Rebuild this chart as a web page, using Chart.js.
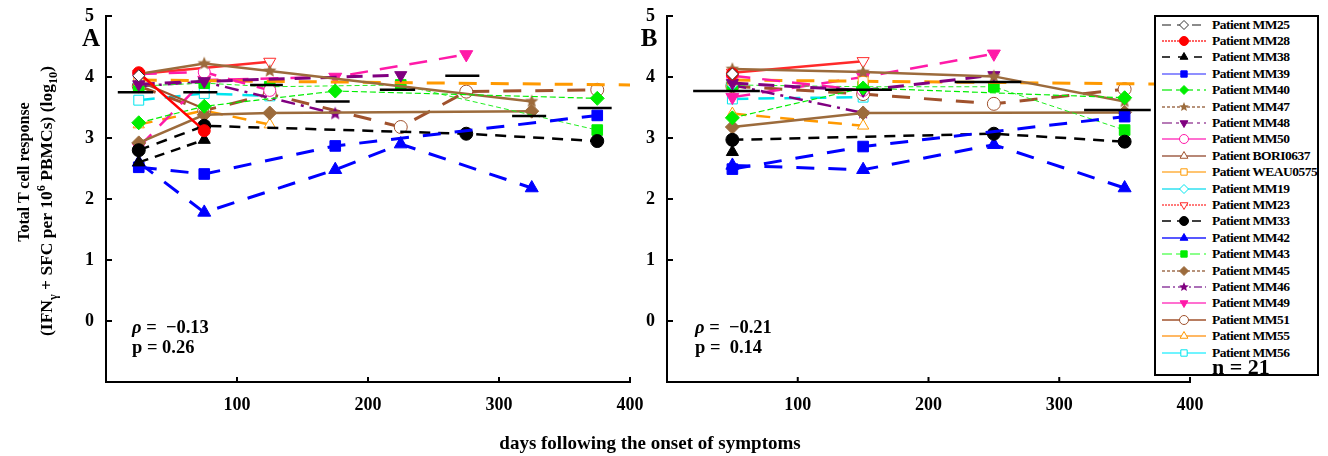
<!DOCTYPE html>
<html><head><meta charset="utf-8">
<script src="https://cdn.jsdelivr.net/npm/chart.js@4/dist/chart.umd.min.js"></script>
<style>
html,body{margin:0;padding:0;background:#fff;}
body{width:1328px;height:456px;position:relative;overflow:hidden;font-family:'Liberation Serif','Times New Roman',serif;font-weight:bold;color:#000;}
canvas.chart{position:absolute;top:0;}
#cA{left:0;}
#cB{left:600px;}
.t{position:absolute;white-space:nowrap;transform:translate(-50%,-50%);line-height:1;}
.r{position:absolute;white-space:nowrap;transform:translate(-50%,-50%) rotate(-90deg);line-height:1;font-size:16px;}
.l{position:absolute;white-space:nowrap;line-height:1;font-size:18.5px;transform:translateY(-50%);}
sub,sup{font-size:0.7em;line-height:0;}
#legend{position:absolute;left:1154px;top:15px;width:165px;height:361px;border:2px solid #000;box-sizing:border-box;background:#fff;z-index:5;}
.row{position:absolute;left:0;height:16px;width:160px;}
.row canvas{position:absolute;left:6px;top:0;}
.row span{position:absolute;left:56px;top:1px;font-size:13.5px;letter-spacing:-0.5px;line-height:14px;white-space:nowrap;}
</style>
</head><body>
<canvas id="cA" class="chart" width="660" height="456"></canvas>
<canvas id="cB" class="chart" width="728" height="456"></canvas>

<div class="t" style="left:91px;top:37px;font-size:25px;">A</div>
<div class="t" style="left:649px;top:37px;font-size:25px;">B</div>
<div class="r" style="left:24px;top:172px;">Total T cell response</div>
<div class="r" style="left:47px;top:201px;font-size:17.5px;">(IFN<sub>γ</sub> + SFC per 10<sup>6</sup> PBMCs) (log<sub>10</sub>)</div>
<div class="t" style="left:650px;top:442px;font-size:19px;">days following the onset of symptoms</div>
<div class="l" style="left:132px;top:327px;"><i>ρ</i> =&nbsp; −0.13</div>
<div class="l" style="left:132px;top:347px;">p = 0.26</div>
<div class="l" style="left:695px;top:327px;"><i>ρ</i> =&nbsp; −0.21</div>
<div class="l" style="left:695px;top:347px;">p =&nbsp; 0.14</div>
<div id="legend"></div>
<div class="l" style="left:1212px;top:367px;font-size:22px;z-index:6;">n = 21</div>

<script>
// ---------------- data ----------------
const patients = ['Patient MM25','Patient MM28','Patient MM38','Patient MM39','Patient MM40','Patient MM47','Patient MM48','Patient MM50','Patient BORI0637','Patient WEAU0575','Patient MM19','Patient MM23','Patient MM33','Patient MM42','Patient MM43','Patient MM45','Patient MM46','Patient MM49','Patient MM51','Patient MM55','Patient MM56'];
const xTicks = [100, 200, 300, 400];
const yTicks = [0, 1, 2, 3, 4, 5];

// Panel A: days (bin centres)
const daysA = [25, 75, 125, 175, 225, 275, 325, 375, 450];
const mm25A = [4.02];
const mm28A = [4.07, 3.12];
const mm38A = [2.6, 2.97];
const mm39A = [2.52, 2.41, null, 2.87, null, null, null, 3.37];
const mm40A = [3.25, 3.52, null, 3.77, null, null, null, 3.65];
const mm47A = [4.05, 4.22, 4.1, null, null, null, 3.6];
const mm48A = [3.88, 3.93, null, null, 4.03];
const mm50A = [4.05, 4.08, 3.78];
const bori0637A = [3.93, 3.48];
const weau0575A = [3.95, null, null, null, null, null, null, null, 3.86];
const mm19A = [3.9];
const mm23A = [4.05, null, 4.25];
const mm33A = [2.8, 3.2, null, null, null, 3.07, null, 2.95];
const mm42A = [2.6, 1.78, null, 2.48, 2.9, null, 2.18];
const mm43A = [3.85, 3.9, 3.84, null, 3.87, null, null, 3.13];
const mm45A = [2.92, 3.38, 3.41, null, null, null, 3.44];
const mm46A = [3.85, 3.92, null, 3.4];
const mm49A = [2.85, 3.95, null, 4.0, null, 4.37];
const mm51A = [3.85, 3.45, 3.72, null, 3.18, 3.76, null, 3.79];
const mm55A = [3.22, 3.45, 3.22];
const mm56A = [3.62, 3.73, 3.69];
const medStartA = [9, 59, 110, 160, 209, 259, 310, 360];
const medEndA   = [36, 85, 135, 186, 236, 285, 336, 386];
const medA      = [3.75, 3.75, 3.87, 3.6, 3.79, 4.02, 3.36, 3.49];

// Panel B
const daysB = [50, 150, 250, 350, 450];
const mm25B = [4.05];
const mm28B = [4.05];
const mm38B = [2.77];
const mm39B = [2.49, 2.86, null, 3.35];
const mm40B = [3.33, 3.82, null, 3.66];
const mm47B = [4.13, 4.08, 4.01, 3.6];
const mm48B = [3.9, 3.78, 4.03];
const mm50B = [4.02, 3.78];
const bori0637B = [3.95];
const weau0575B = [3.95, 3.93, null, null, 3.87];
const mm19B = [3.88];
const mm23B = [4.07, 4.26];
const mm33B = [2.97, null, 3.07, 2.94];
const mm42B = [2.55, 2.48, 2.89, 2.18];
const mm43B = [3.87, 3.84, 3.84, 3.13];
const mm45B = [3.18, 3.41, null, 3.42];
const mm46B = [3.87, 3.41];
const mm49B = [3.67, 4.0, 4.38];
const mm51B = [3.85, 3.72, 3.56, 3.8];
const mm55B = [3.4, 3.2];
const mm56B = [3.64, 3.67];
const medStartB = [20, 121, 220, 319];
const medEndB   = [71, 172, 271, 370];
const medB      = [3.77, 3.79, 3.92, 3.46];

const seriesA = [mm25A, mm28A, mm38A, mm39A, mm40A, mm47A, mm48A, mm50A, bori0637A, weau0575A, mm19A, mm23A, mm33A, mm42A, mm43A, mm45A, mm46A, mm49A, mm51A, mm55A, mm56A];
const seriesB = [mm25B, mm28B, mm38B, mm39B, mm40B, mm47B, mm48B, mm50B, bori0637B, weau0575B, mm19B, mm23B, mm33B, mm42B, mm43B, mm45B, mm46B, mm49B, mm51B, mm55B, mm56B];

// ---------------- styles ----------------
const styles = [
 {c:'#7f7f7f', d:[10,6], w:2,   m:'rectRot', f:false, mc:'#333333', r:6,   lc:'#666666', ld:[9,6]},
 {c:'#ff0000', d:[],     w:2.5, m:'circle',  f:true,  mc:'#ff0000', r:6,   lc:'#ff3030', ld:[2,1]},
 {c:'#000000', d:[10,7], w:2.5, m:'triangle',f:true,  mc:'#000000', r:7,   lc:'#000000', ld:[8,8]},
 {c:'#0000ff', d:[18,14],w:3,   m:'rect',    f:true,  mc:'#0000ff', r:7.5, lc:'#6a6aff', ld:[]},
 {c:'#00ee00', d:[6,3],  w:1.2, m:'rectRot', f:true,  mc:'#00ee00', r:7,   lc:'#33ee33', ld:[10,4,3,4]},
 {c:'#9c6b3c', d:[],     w:2.5, m:'star',    f:true,  mc:'#9c6b3c', r:7,   lc:'#a07050', ld:[3,2]},
 {c:'#800080', d:[16,10],w:3,   m:'triangle',rot:180, f:true, mc:'#800080', r:7, lc:'#a050a0', ld:[10,4,3,4]},
 {c:'#ff1aa8', d:[18,12],w:2.5, m:'circle',  f:false, mc:'#ff1aa8', r:6,   lc:'#ff40c0', ld:[]},
 {c:'#a0522d', d:[],     w:2,   m:'triangle',f:false, mc:'#a0522d', r:6,   lc:'#a0604a', ld:[]},
 {c:'#ff9900', d:[18,14],w:3,   m:'rect',    f:false, mc:'#ff9900', r:7,   lc:'#ffb040', ld:[]},
 {c:'#00e5ee', d:[14,10],w:2,   m:'rectRot', f:false, mc:'#00e5ee', r:6,   lc:'#30e0f0', ld:[]},
 {c:'#ff2a2a', d:[],     w:2.5, m:'triangle',rot:180, f:false, mc:'#ff2a2a', r:7, lc:'#ff5050', ld:[2,1]},
 {c:'#000000', d:[11,8], w:2.5, m:'circle',  f:true,  mc:'#000000', r:6.5, lc:'#000000', ld:[9,6]},
 {c:'#0000ff', d:[18,14],w:3,   m:'triangle',f:true,  mc:'#0000ff', r:7.5, lc:'#2020ff', ld:[]},
 {c:'#22ee22', d:[5,3],  w:1,   m:'rect',    f:true,  mc:'#00ee00', r:7.5, lc:'#66ff66', ld:[10,4]},
 {c:'#9c6b3c', d:[],     w:2.5, m:'rectRot', f:true,  mc:'#9c6b3c', r:7,   lc:'#a07050', ld:[3,2]},
 {c:'#800080', d:[14,6,3,6],w:2.5,m:'star',  f:true,  mc:'#800080', r:7,   lc:'#9040a0', ld:[8,3,2,3]},
 {c:'#ff1aa8', d:[18,12],w:2.5, m:'triangle',rot:180, f:true, mc:'#ff1aa8', r:7.5, lc:'#ff40c0', ld:[]},
 {c:'#a0522d', d:[18,14],w:3,   m:'circle',  f:false, mc:'#a0522d', r:6.5, lc:'#a0522d', ld:[]},
 {c:'#ff9900', d:[14,10],w:2.5, m:'triangle',f:false, mc:'#ff9900', r:6.5, lc:'#ffa030', ld:[]},
 {c:'#00e5ee', d:[16,10],w:2.5, m:'rect',    f:false, mc:'#00e5ee', r:7,   lc:'#40f0ff', ld:[]}
];

function starImage(color, r) {
  const s = Math.ceil(2 * r + 2);
  const cv = document.createElement('canvas');
  cv.width = s; cv.height = s;
  const g = cv.getContext('2d');
  g.fillStyle = color;
  g.beginPath();
  for (let k = 0; k < 10; k++) {
    const rad = (k % 2 === 0) ? r : r * 0.45;
    const a = -Math.PI / 2 + k * Math.PI / 5;
    const px = s / 2 + rad * Math.cos(a), py = s / 2 + rad * Math.sin(a);
    if (k === 0) g.moveTo(px, py); else g.lineTo(px, py);
  }
  g.closePath(); g.fill();
  return cv;
}

function buildDatasets(days, series, medStart, medEnd, med) {
  const ds = [];
  for (let i = 0; i < med.length; i++) {
    ds.push({data: [{x: medStart[i], y: med[i]}, {x: medEnd[i], y: med[i]}],
      borderColor: '#000', borderWidth: 2.5, pointRadius: 0, fill: false});
  }
  series.forEach((vals, i) => {
    const st = styles[i];
    const data = [];
    vals.forEach((v, j) => { if (v !== null && v !== undefined) data.push({x: days[j], y: v}); });
    ds.push({
      label: patients[i], data,
      borderColor: st.c, borderDash: st.d, borderWidth: st.w,
      pointStyle: st.m === 'star' ? starImage(st.mc, st.r) : st.m,
      rotation: st.rot || 0,
      pointRadius: st.r,
      pointBackgroundColor: st.f ? st.mc : '#ffffff',
      pointBorderColor: st.mc, pointBorderWidth: 1,
      tension: 0, spanGaps: true, fill: false
    });
  });
  return ds;
}

const inwardTicks = {
  id: 'inwardTicks',
  afterDraw(chart) {
    const {ctx, chartArea: a, scales: {x, y}} = chart;
    ctx.save();
    ctx.strokeStyle = '#000'; ctx.lineWidth = 2; ctx.setLineDash([]);
    ctx.beginPath();
    yTicks.forEach(v => { const p = y.getPixelForValue(v); ctx.moveTo(a.left, p); ctx.lineTo(a.left + 6, p); });
    xTicks.forEach(v => { const p = x.getPixelForValue(v); ctx.moveTo(p, a.bottom); ctx.lineTo(p, a.bottom - 5); });
    ctx.stroke();
    ctx.restore();
  }
};

const tickFont = {family: "'Liberation Serif', 'Times New Roman', serif", size: 18, weight: 'bold'};

function makeChart(id, days, series, medStart, medEnd, med, yWidth, padRight) {
  return new Chart(document.getElementById(id), {
    type: 'line',
    data: {datasets: buildDatasets(days, series, medStart, medEnd, med)},
    options: {
      responsive: false, animation: false, devicePixelRatio: 1,
      layout: {padding: {left: 0, top: 16, right: padRight, bottom: 0}},
      plugins: {legend: {display: false}, tooltip: {enabled: false}},
      scales: {
        x: {type: 'linear', min: 0, max: 400,
            ticks: {stepSize: 100, color: '#000', font: tickFont, padding: 5, maxRotation: 0, autoSkip: false,
                    callback: v => xTicks.includes(v) ? String(v) : ''},
            grid: {display: false},
            border: {display: true, color: '#000', width: 2},
            afterFit: s => { s.height = 74; }},
        y: {type: 'linear', min: -1, max: 5,
            ticks: {stepSize: 1, color: '#000', font: tickFont, padding: 4,
                    callback: v => yTicks.includes(v) ? String(v) : ''},
            grid: {display: false},
            border: {display: true, color: '#000', width: 2},
            afterFit: s => { s.width = yWidth; }}
      }
    },
    plugins: [inwardTicks]
  });
}

makeChart('cA', daysA, seriesA, medStartA, medEndA, medA, 106, 30);
makeChart('cB', daysB, seriesB, medStartB, medEndB, medB, 67, 138);

// ---------------- legend ----------------
function drawMarker(g, st, x, y, r) {
  g.setLineDash([]);
  g.fillStyle = st.f ? st.mc : '#ffffff';
  g.strokeStyle = st.mc; g.lineWidth = 1;
  if (st.m === 'star') { const im = starImage(st.mc, r); g.drawImage(im, x - im.width / 2, y - im.height / 2); return; }
  if (Chart.helpers && Chart.helpers.drawPoint) {
    Chart.helpers.drawPoint(g, {pointStyle: st.m, radius: r, rotation: st.rot || 0, borderWidth: 1}, x, y);
    return;
  }
  g.beginPath(); g.arc(x, y, r, 0, Math.PI * 2); g.fill(); g.stroke();
}
const legend = document.getElementById('legend');
patients.forEach((name, i) => {
  const st = styles[i];
  const row = document.createElement('div');
  row.className = 'row';
  row.style.top = (-0.5 + i * 16.4) + 'px';
  const cv = document.createElement('canvas');
  cv.width = 46; cv.height = 16;
  const g = cv.getContext('2d');
  g.strokeStyle = st.lc; g.lineWidth = 1.5; g.setLineDash(st.ld);
  g.beginPath(); g.moveTo(0, 8); g.lineTo(44, 8); g.stroke();
  drawMarker(g, st, 22, 8, st.m === 'star' ? 5 : 4.5);
  const sp = document.createElement('span');
  sp.textContent = name;
  row.appendChild(cv); row.appendChild(sp);
  legend.appendChild(row);
});
</script>
</body></html>
